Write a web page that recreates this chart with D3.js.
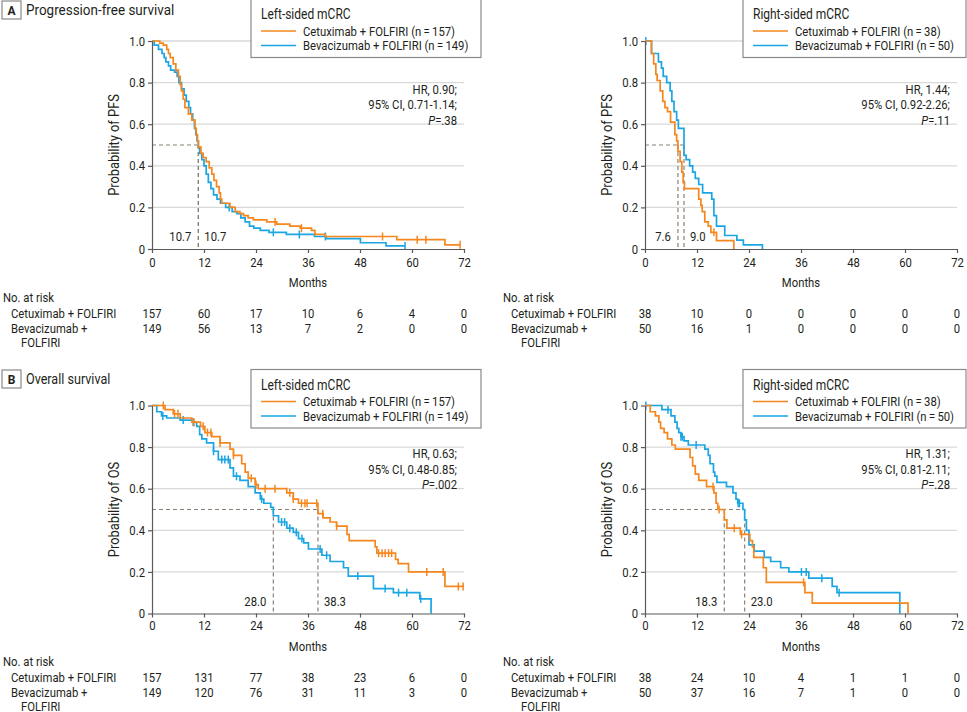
<!DOCTYPE html>
<html><head><meta charset="utf-8">
<script src="https://cdn.jsdelivr.net/npm/d3@7"></script>
<style>
body{margin:0;background:#fff}
svg text{font-family:Roboto,"Noto Sans",sans-serif;font-size:13px;fill:#231f20}
</style></head><body>
<svg id="c" width="967" height="712"></svg>
<script>
// ---------- DATA ----------
const monthTicks = [0, 12, 24, 36, 48, 60, 72];
const probTicks = [0, 0.2, 0.4, 0.6, 0.8, 1.0];
const probTickLabels = ["0", "0.2", "0.4", "0.6", "0.8", "1.0"];
const armNames = ["Cetuximab + FOLFIRI", "Bevacizumab + FOLFIRI"];

// Progression-free survival, left-sided: [month, probability]
const pfsLeftCetux = [[0,1],[1.8,.99],[2.6,.98],[3.4,.96],[3.8,.94],[4.2,.92],[4.9,.89],[5.5,.86],[6.1,.83],[6.5,.79],[6.8,.76],[7.2,.72],[7.6,.68],[8.4,.65],[9.2,.62],[9.9,.58],[10.2,.55],[10.5,.52],[10.7,.49],[11.3,.46],[11.8,.44],[12.5,.42],[13.2,.39],[13.8,.36],[14.3,.33],[14.9,.30],[15.5,.27],[15.8,.24],[16.1,.22],[18.0,.20],[19.2,.18],[20.3,.17],[21.1,.16],[22.2,.15],[23.4,.14],[26.5,.13],[28.8,.12],[31.8,.11],[34.2,.10],[36.8,.09],[37.6,.07],[40.0,.06],[56.5,.045],[67.6,.02],[71.1,.02]];
const pfsLeftCetuxCens = [28.4, 34.5, 53.2, 61.2, 63.2, 71.1];
const pfsLeftBeva = [[0,1],[0.5,.98],[1.5,.96],[2.3,.94],[2.8,.92],[3.2,.90],[3.8,.88],[4.3,.86],[5.2,.85],[5.8,.83],[6.2,.80],[6.8,.77],[7.4,.74],[7.9,.71],[8.5,.68],[8.9,.65],[9.4,.62],[9.8,.58],[10.1,.55],[10.4,.52],[10.7,.49],[11.0,.46],[11.5,.43],[12.0,.40],[12.5,.36],[13.0,.32],[13.6,.29],[14.2,.26],[15.0,.24],[15.8,.22],[17.0,.20],[18.5,.18],[19.6,.17],[20.5,.15],[21.5,.13],[22.5,.11],[23.5,.10],[25.0,.09],[27.0,.08],[31.0,.07],[37.5,.06],[40.2,.05],[48.1,.03],[54.0,.015],[58.4,.015]];
const pfsLeftBevaCens = [17.8, 28.0, 34.0, 40.0, 58.4];

// Progression-free survival, right-sided
const pfsRightCetux = [[0,1],[1.5,.94],[2.0,.89],[2.5,.84],[2.8,.81],[3.5,.76],[4.1,.71],[4.6,.68],[5.2,.66],[5.9,.61],[6.9,.55],[7.3,.52],[7.6,.47],[8.1,.42],[8.5,.37],[8.8,.32],[9.1,.29],[12.4,.24],[12.9,.21],[13.2,.18],[13.8,.13],[14.6,.11],[15.2,.08],[16.5,.04],[20.5,0]];
const pfsRightCetuxCens = [15.9];
const pfsRightBeva = [[0,1],[1.5,.94],[3.1,.90],[3.8,.87],[4.2,.83],[5.0,.80],[5.8,.76],[6.2,.71],[6.7,.66],[7.3,.62],[7.7,.58],[9.0,.45],[9.5,.43],[10.3,.40],[11.0,.37],[11.6,.34],[12.4,.31],[13.3,.27],[15.4,.24],[15.9,.16],[16.5,.11],[18.4,.065],[21.2,.043],[22.7,.02],[27.1,0]];
const pfsRightBevaCens = [0.2];

// Overall survival, left-sided
const osLeftCetux = [[0,1],[3.0,.98],[4.9,.96],[6.5,.94],[9.2,.92],[11.2,.90],[12.2,.87],[13.8,.85],[15.7,.82],[18.0,.79],[18.8,.76],[20.7,.72],[21.5,.68],[22.2,.65],[23.8,.62],[24.5,.60],[31.1,.58],[32.6,.55],[33.8,.53],[38.3,.48],[39.5,.46],[41.1,.44],[42.6,.42],[45.0,.38],[45.5,.35],[51.5,.32],[51.9,.29],[56.2,.26],[56.8,.24],[59.2,.20],[67.6,.13],[72,.13]];
const osLeftCetuxCens = [2.6, 5.2, 6.0, 9.7, 11.8, 12.8, 13.6, 15.7, 18.8, 22.9, 24.0, 26.1, 28.4, 31.8, 32.6, 34.5, 35.3, 35.8, 38.0, 39.4, 42.6, 52.3, 53.1, 53.8, 54.6, 55.3, 63.4, 67.2, 70.7, 71.8];
const osLeftBeva = [[0,1],[1.1,.97],[2.2,.95],[3.4,.94],[6.5,.93],[9.2,.92],[10.3,.90],[11.0,.86],[11.5,.84],[12.6,.82],[14.2,.78],[15.3,.74],[18.0,.70],[18.8,.66],[20.3,.64],[22.2,.61],[23.8,.58],[25.0,.55],[25.8,.53],[27.4,.51],[28.0,.47],[29.2,.44],[31.1,.41],[32.6,.39],[33.8,.36],[35.0,.34],[36.1,.31],[39.2,.28],[41.1,.25],[44.2,.22],[45.3,.18],[51.1,.12],[55.7,.10],[61.8,.07],[64.4,0]];
const osLeftBevaCens = [2.5, 7.2, 9.5, 14.2, 16.1, 16.8, 17.6, 19.5, 25.3, 29.9, 30.6, 31.8, 33.3, 34.6, 38.8, 40.3, 47.5, 53.8, 56.9, 58.8, 62.0];

// Overall survival, right-sided
const osRightCetux = [[0,1],[1.2,.97],[2.4,.95],[3.2,.92],[3.6,.89],[4.4,.87],[5.2,.84],[6.2,.81],[7.0,.79],[10.4,.75],[11.0,.71],[11.6,.67],[12.4,.64],[14.2,.61],[15.9,.58],[16.4,.53],[16.8,.50],[18.3,.45],[18.9,.41],[22.0,.38],[24.2,.35],[24.8,.32],[25.1,.27],[27.3,.22],[28.0,.15],[36.9,.10],[38.6,.05],[60.7,0]];
const osRightCetuxCens = [15.7, 17.1, 20.6, 22.3, 36.6];
const osRightBeva = [[0,1],[3.9,.98],[6.0,.95],[6.9,.92],[7.4,.89],[7.8,.87],[8.3,.85],[9.0,.83],[10.0,.81],[13.8,.79],[14.6,.76],[15.0,.72],[15.8,.68],[16.1,.66],[16.6,.63],[18.8,.61],[20.3,.58],[21.0,.55],[21.4,.53],[22.6,.50],[23.0,.45],[23.4,.40],[24.0,.33],[25.2,.30],[27.5,.27],[29.0,.25],[31.3,.22],[33.2,.20],[37.8,.17],[43.2,.13],[44.3,.10],[58.8,0]];
const osRightBevaCens = [0.2, 5.3, 8.3, 8.6, 11.8, 21.5, 21.8, 36.1, 37.2, 40.8, 44.8];

// Medians (months) shown as dashed reference lines
const pfsLeftMedians = [10.7, 10.7];
const pfsRightMedians = [7.6, 9.0];
const osLeftMedians = [28.0, 38.3];
const osRightMedians = [18.3, 23.0];

// Numbers at risk at monthTicks
const pfsLeftRiskCetux = [157, 60, 17, 10, 6, 4, 0];
const pfsLeftRiskBeva = [149, 56, 13, 7, 2, 0, 0];
const pfsRightRiskCetux = [38, 10, 0, 0, 0, 0, 0];
const pfsRightRiskBeva = [50, 16, 1, 0, 0, 0, 0];
const osLeftRiskCetux = [157, 131, 77, 38, 23, 6, 0];
const osLeftRiskBeva = [149, 120, 76, 31, 11, 3, 0];
const osRightRiskCetux = [38, 24, 10, 4, 1, 1, 0];
const osRightRiskBeva = [50, 37, 16, 7, 1, 0, 0];

// Statistics text
const pfsLeftStats = ["HR, 0.90;", "95% CI, 0.71-1.14;", ".38"];
const pfsRightStats = ["HR, 1.44;", "95% CI, 0.92-2.26;", ".11"];
const osLeftStats = ["HR, 0.63;", "95% CI, 0.48-0.85;", ".002"];
const osRightStats = ["HR, 1.31;", "95% CI, 0.81-2.11;", ".28"];

const leftN = [157, 149];
const rightN = [38, 50];

// ---------- DRAW ----------
const svg = d3.select("#c");
const ORANGE = "#f5871f", BLUE = "#1ba6e3";
const GRID = "#d9d9d9", AXIS = "#5a5a5a", DASH = "#8c8074";

function survAt(curve, t) {
  let s = curve[0][1];
  for (const p of curve) { if (p[0] <= t) s = p[1]; else break; }
  return s;
}

function panel(cfg) {
  const g = svg.append("g");
  const x = d3.scaleLinear().domain([0, 72]).range([cfg.x0, cfg.x0 + 312]);
  const y = d3.scaleLinear().domain([0, 1]).range([cfg.yB, cfg.yT]);

  g.selectAll(".grid").data(probTicks.filter(d => d > 0)).enter().append("line")
    .attr("x1", x(0)).attr("x2", x(72)).attr("y1", d => y(d)).attr("y2", d => y(d))
    .attr("stroke", GRID).attr("stroke-width", 1.3);

  const m = cfg.medians, mMax = d3.max(m);
  g.append("line").attr("x1", x(0)).attr("x2", x(mMax)).attr("y1", y(0.5)).attr("y2", y(0.5))
    .attr("stroke", DASH).attr("stroke-width", 1.2).attr("stroke-dasharray", "4,3");
  m.forEach(v => g.append("line").attr("x1", x(v)).attr("x2", x(v)).attr("y1", y(0.5)).attr("y2", y(0))
    .attr("stroke", DASH).attr("stroke-width", 1.2).attr("stroke-dasharray", "4,3"));
  g.append("text").attr("x", x(m[0]) - 7).attr("y", y(0) - 8).attr("text-anchor", "end").text(m[0].toFixed(1));
  g.append("text").attr("x", x(m[1]) + 6).attr("y", y(0) - 8).attr("text-anchor", "start").text(m[1].toFixed(1));

  const line = d3.line().x(d => x(d[0])).y(d => y(d[1])).curve(d3.curveStepAfter);
  const series = [
    {c: cfg.beva, cens: cfg.bevaCens, col: BLUE},
    {c: cfg.cetux, cens: cfg.cetuxCens, col: ORANGE}
  ];
  series.forEach(s => {
    g.append("path").attr("d", line(s.c)).attr("fill", "none").attr("stroke", s.col).attr("stroke-width", 1.7);
    g.selectAll(null).data(s.cens).enter().append("line")
      .attr("x1", d => x(d)).attr("x2", d => x(d))
      .attr("y1", d => y(survAt(s.c, d)) - 4).attr("y2", d => y(survAt(s.c, d)) + 4)
      .attr("stroke", s.col).attr("stroke-width", 1.5);
  });

  const ya = g.append("g").attr("transform", `translate(${x(0)},0)`)
    .call(d3.axisLeft(y).tickValues(probTicks).tickFormat((d, i) => probTickLabels[i]).tickSize(4).tickSizeOuter(0).tickPadding(3));
  const xa = g.append("g").attr("transform", `translate(0,${y(0)})`)
    .call(d3.axisBottom(x).tickValues(monthTicks).tickFormat(d => d).tickSize(4).tickSizeOuter(0).tickPadding(cfg.xPad));
  [ya, xa].forEach(a => {
    a.select(".domain").attr("stroke", AXIS).attr("stroke-width", 1.2);
    a.selectAll(".tick line").attr("stroke", AXIS).attr("stroke-width", 1.2);
    a.selectAll("text").attr("font-size", null).attr("font-family", null).style("fill", "#231f20");
  });

  g.append("text").attr("transform", `translate(${cfg.x0 - 33},${(cfg.yT + cfg.yB) / 2}) rotate(-90)`)
    .attr("text-anchor", "middle").style("font-size", "14.8px").text(cfg.yLabel);
  g.append("text").attr("x", x(36)).attr("y", cfg.monthsY).attr("text-anchor", "middle").text("Months");

  const sx = cfg.x0 + 305;
  cfg.stats.forEach((t, i) => {
    const tx = g.append("text").attr("x", sx).attr("y", cfg.yT + 52.5 + i * 15.5).attr("text-anchor", "end");
    if (i < 2) tx.text(t);
    else { tx.append("tspan").attr("font-style", "italic").text("P"); tx.append("tspan").text("=" + t); }
  });

  const lg = g.append("g");
  lg.append("rect").attr("x", cfg.legX).attr("y", cfg.legY).attr("width", cfg.legW).attr("height", 58.5)
    .attr("fill", "#fff").attr("stroke", "#8a8a8a").attr("stroke-width", 1.2);
  lg.append("text").attr("x", cfg.legX + 10).attr("y", cfg.legY + 20).style("font-size", "13.8px").text(cfg.legTitle);
  [[ORANGE, 0], [BLUE, 1]].forEach(([col, i]) => {
    const ly = cfg.legY + 32 + i * 14.5;
    lg.append("line").attr("x1", cfg.legX + 10).attr("x2", cfg.legX + 45).attr("y1", ly).attr("y2", ly)
      .attr("stroke", col).attr("stroke-width", 1.7);
    lg.append("text").attr("x", cfg.legX + 52).attr("y", ly + 4.5).text(`${armNames[i]} (n\u2009=\u2009${cfg.n[i]})`);
  });

  const r = g.append("g");
  r.append("text").attr("x", cfg.riskX).attr("y", cfg.riskY).text("No. at risk");
  r.append("text").attr("x", cfg.riskX + 8).attr("y", cfg.riskY + 16).text(armNames[0]);
  r.append("text").attr("x", cfg.riskX + 8).attr("y", cfg.riskY + 31).text("Bevacizumab +");
  r.append("text").attr("x", cfg.riskX + 18).attr("y", cfg.riskY + 45).text("FOLFIRI");
  [cfg.riskC, cfg.riskB].forEach((row, j) => {
    r.selectAll(null).data(row).enter().append("text")
      .attr("x", (d, i) => x(monthTicks[i])).attr("y", cfg.riskY + 16 + j * 15)
      .attr("text-anchor", "middle").text(d => d);
  });
}

panel({x0: 152, yT: 41, yB: 249, xPad: 5, monthsY: 286.5, yLabel: "Probability of PFS",
  cetux: pfsLeftCetux, cetuxCens: pfsLeftCetuxCens, beva: pfsLeftBeva, bevaCens: pfsLeftBevaCens,
  medians: pfsLeftMedians, stats: pfsLeftStats, legX: 251, legY: -1, legW: 230, legTitle: "Left-sided mCRC", n: leftN,
  riskX: 3, riskY: 301.5, riskC: pfsLeftRiskCetux, riskB: pfsLeftRiskBeva});
panel({x0: 645, yT: 41, yB: 249, xPad: 5, monthsY: 286.5, yLabel: "Probability of PFS",
  cetux: pfsRightCetux, cetuxCens: pfsRightCetuxCens, beva: pfsRightBeva, bevaCens: pfsRightBevaCens,
  medians: pfsRightMedians, stats: pfsRightStats, legX: 743, legY: -1, legW: 223, legTitle: "Right-sided mCRC", n: rightN,
  riskX: 503, riskY: 301.5, riskC: pfsRightRiskCetux, riskB: pfsRightRiskBeva});
panel({x0: 152, yT: 405.5, yB: 613.5, xPad: 3, monthsY: 650.5, yLabel: "Probability of OS",
  cetux: osLeftCetux, cetuxCens: osLeftCetuxCens, beva: osLeftBeva, bevaCens: osLeftBevaCens,
  medians: osLeftMedians, stats: osLeftStats, legX: 251, legY: 369.5, legW: 230, legTitle: "Left-sided mCRC", n: leftN,
  riskX: 3, riskY: 665.5, riskC: osLeftRiskCetux, riskB: osLeftRiskBeva});
panel({x0: 645, yT: 405.5, yB: 613.5, xPad: 3, monthsY: 650.5, yLabel: "Probability of OS",
  cetux: osRightCetux, cetuxCens: osRightCetuxCens, beva: osRightBeva, bevaCens: osRightBevaCens,
  medians: osRightMedians, stats: osRightStats, legX: 743, legY: 369.5, legW: 223, legTitle: "Right-sided mCRC", n: rightN,
  riskX: 503, riskY: 665.5, riskC: osRightRiskCetux, riskB: osRightRiskBeva});

[["A", "Progression-free survival", 1, "15.5px"], ["B", "Overall survival", 370, "14.5px"]].forEach(([k, t, yy, fs]) => {
  svg.append("rect").attr("x", 2).attr("y", yy).attr("width", 19).attr("height", 18)
    .attr("fill", "#fff").attr("stroke", "#8a8a8a").attr("stroke-width", 1.2);
  svg.append("text").attr("class", "nofit").attr("x", 11.5).attr("y", yy + 13.5).attr("text-anchor", "middle")
    .attr("font-weight", "bold").style("font-size", "12px").text(k);
  svg.append("text").attr("x", 26).attr("y", yy + 14).style("font-size", fs).text(t);
});

// Condense glyphs to mimic the narrow typeface of the original
const probe = svg.append("text").text("Cetuximab + FOLFIRI (n\u2009=\u2009157)");
const condense = 152 / probe.node().getComputedTextLength();
probe.remove();
svg.selectAll("text:not(.nofit)").each(function () {
  const w = this.getComputedTextLength();
  if (w > 0) d3.select(this).attr("textLength", w * condense).attr("lengthAdjust", "spacingAndGlyphs");
});
</script>
</body></html>
